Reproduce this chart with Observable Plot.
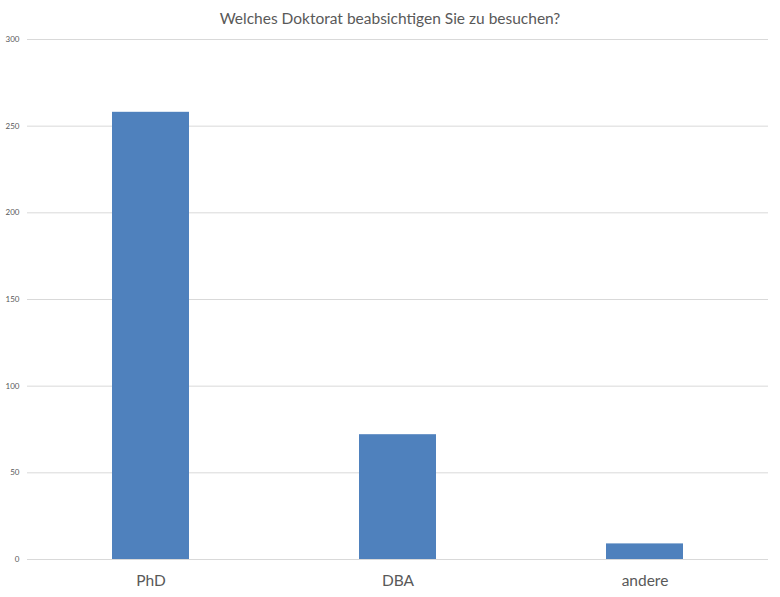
<!DOCTYPE html>
<html>
<head>
<meta charset="utf-8">
<script src="https://cdn.jsdelivr.net/npm/d3@7"></script>
<script src="https://cdn.jsdelivr.net/npm/@observablehq/plot@0.6"></script>
<style>
  body { margin: 0; background: #fff; }
  #title { height: 24px; line-height: 24px; padding-top: 6px; text-align: center; font-family: Lato, "Open Sans", sans-serif; font-size: 15.5px; color: #595959; }
</style>
</head>
<body>
<div id="title">Welches Doktorat beabsichtigen Sie zu besuchen?</div>
<div id="chart"></div>
<script>
const categories = ["PhD", "DBA", "andere"];
const values = [258, 72, 9];
const yTicks = [0, 50, 100, 150, 200, 250, 300];

const data = categories.map((c, i) => ({category: c, value: values[i]}));

const chart = Plot.plot({
  width: 780,
  height: 567,
  marginTop: 9,
  marginBottom: 38,
  marginLeft: 27,
  marginRight: 12,
  style: {fontFamily: "Lato, 'Open Sans', sans-serif", color: "#595959", background: "#fff"},
  x: {domain: categories, paddingInner: 0.688, paddingOuter: 0.344, label: null},
  y: {domain: [0, 300], label: null},
  marks: [
    Plot.ruleY(yTicks, {stroke: "#d9d9d9", strokeWidth: 1}),
    Plot.barY(data, {x: "category", y: "value", fill: "#4f81bd"}),
    Plot.axisY({ticks: yTicks, tickSize: 0, tickPadding: 8, fontSize: 8, label: null, fill: "#595959"}),
    Plot.axisX({tickSize: 0, tickPadding: 15, fontSize: 15.5, label: null, fill: "#595959"})
  ]
});
document.getElementById("chart").appendChild(chart);
</script>
</body>
</html>
